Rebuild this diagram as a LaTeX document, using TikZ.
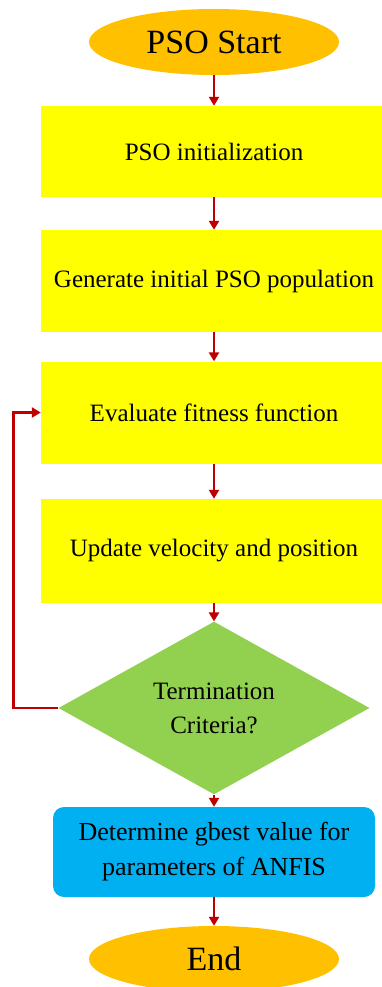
\documentclass[tikz,border=0pt]{standalone}
\usepackage{fontspec}
\setmainfont{Liberation Serif}
\usetikzlibrary{shapes.geometric,arrows.meta}
\definecolor{startorange}{HTML}{FFC000}
\definecolor{boxyellow}{HTML}{FFFF00}
\definecolor{diagreen}{HTML}{92D050}
\definecolor{boxblue}{HTML}{00B0F0}
\definecolor{arrowred}{HTML}{C00000}
\begin{document}
\begin{tikzpicture}[x=1pt,y=-1pt,
  terminal/.style={ellipse,fill=startorange,minimum width=250pt,minimum height=66pt,inner sep=0pt,font=\fontsize{34}{40}\selectfont},
  stepbox/.style={rectangle,fill=boxyellow,minimum width=346pt,inner sep=0pt,font=\fontsize{25}{30}\selectfont},
  decision/.style={diamond,fill=diagreen,minimum width=311pt,minimum height=151pt,inner sep=0pt,align=center,font=\fontsize{25}{34}\selectfont},
  resultbox/.style={rectangle,rounded corners=11pt,fill=boxblue,minimum width=322pt,minimum height=90pt,inner sep=0pt,align=center,font=\fontsize{26}{35}\selectfont},
  flow/.style={draw=arrowred,line width=2.4pt,-{Triangle[width=10pt,length=9pt]}}
]
\useasboundingbox (0,0) rectangle (381,987);
\node[terminal] (start) at (214,42) {PSO Start};
\node[stepbox,minimum height=91pt] (b1) at (214,151.5) {PSO initialization};
\node[stepbox,minimum height=102pt] (b2) at (214,281) {Generate initial PSO population};
\node[stepbox,minimum height=102pt] (b3) at (214,412.5) {Evaluate fitness function};
\node[stepbox,minimum height=104pt] (b4) at (214,551) {Update velocity and position};
\node[decision] (dec) at (214,708) {Termination\\Criteria?};
\node[resultbox] (res) at (214,852) {Determine gbest value for\\parameters of ANFIS};
\node[terminal] (end) at (214,959) {End};
\draw[flow] (start) -- (b1);
\draw[flow] (b1) -- (b2);
\draw[flow] (b2) -- (b3);
\draw[flow] (b3) -- (b4);
\draw[flow] (b4) -- (dec);
\draw[flow] (dec) -- (res);
\draw[flow] (res) -- (end);
\draw[flow] (dec.west) -- ++(-45,0) |- (b3.west);
\end{tikzpicture}
\end{document}
